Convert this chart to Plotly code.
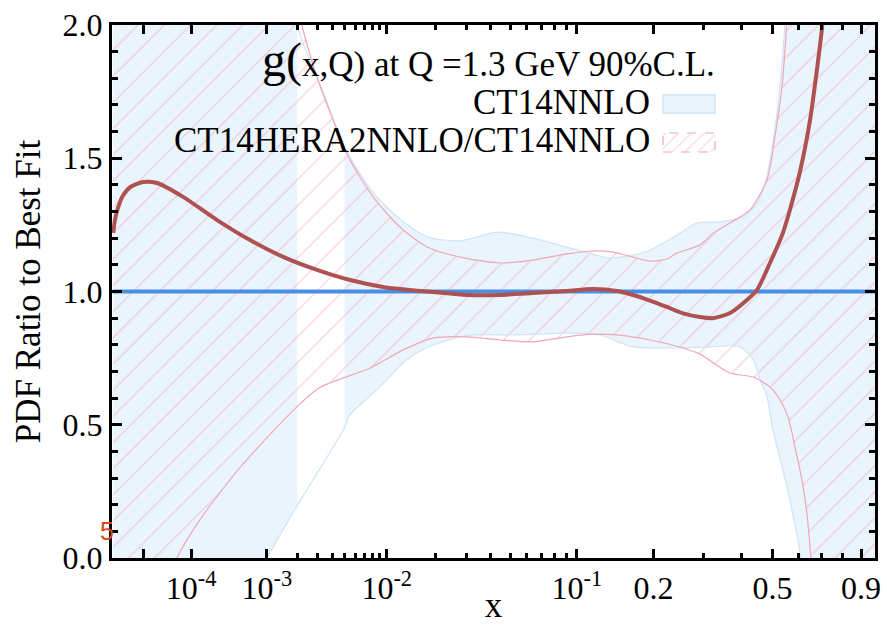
import numpy as np
import plotly.graph_objects as go

# ---------------------------------------------------------------- data ----
# CT14HERA2NNLO / CT14NNLO best-fit ratio for g(x,Q) at Q = 1.3 GeV
x_ratio = [1e-6, 1.19e-6, 1.57e-6, 2.4e-6, 4.14e-6, 9.85e-6, 2.17e-5, 7.27e-5,
           2.5e-4, 6.54e-4, 1.47e-3, 2.99e-3, 5.5e-3, 9.45e-3, 0.0123, 0.0194,
           0.0302, 0.0446, 0.0639, 0.0909, 0.1165, 0.1455, 0.1678, 0.1943,
           0.2238, 0.2554, 0.2921, 0.3235, 0.3676, 0.4164, 0.4481, 0.4914,
           0.538, 0.5645, 0.6048, 0.6464, 0.677, 0.7005, 0.73]
ratio = [1.22, 1.27, 1.315, 1.36, 1.392, 1.411, 1.407, 1.355,
         1.268, 1.193, 1.13, 1.081, 1.043, 1.017, 1.009, 0.998,
         0.987, 0.987, 0.994, 1.002, 1.009, 1.002, 0.987, 0.966,
         0.942, 0.918, 0.904, 0.900, 0.919, 0.968, 1.006, 1.107,
         1.22, 1.306, 1.45, 1.64, 1.83, 1.99, 2.3]

# CT14NNLO reference (ratio to itself)
x_ref = [1e-6, 1.0]
ref = [1.0, 1.0]

# CT14NNLO 90% C.L. band, upper edge
x_ct14_hi = [1e-6, 1e-4, 1e-3, 1.5e-3, 2e-3, 2.44e-3, 3.5e-3, 5e-3, 8.1e-3,
             0.0123, 0.018, 0.0277, 0.0432, 0.0639, 0.1, 0.1366, 0.1678,
             0.1895, 0.2238, 0.2497, 0.2854, 0.3406, 0.4043, 0.448, 0.48,
             0.51, 0.53, 0.545, 0.56, 0.6, 1.0]
ct14_hi = [6.0, 4.0, 2.7, 2.25, 2.0, 1.895, 1.73, 1.54, 1.37,
           1.27, 1.205, 1.19, 1.223, 1.2, 1.156, 1.126, 1.137,
           1.15, 1.19, 1.22, 1.257, 1.261, 1.28, 1.33, 1.43,
           1.62, 1.8, 2.0, 2.3, 3.2, 8.0]

# CT14NNLO 90% C.L. band, lower edge
x_ct14_lo = [1e-6, 1e-4, 5e-4, 1e-3, 2e-3, 5e-3, 5.5e-3, 9e-3, 0.01343,
             0.018, 0.0302, 0.0539, 0.0909, 0.1244, 0.1678, 0.2238, 0.2921,
             0.3958, 0.4363, 0.4582, 0.4814, 0.5017, 0.5534, 0.6048, 0.65, 1.0]
ct14_lo = [-3.0, -0.6, -0.18, 0.0, 0.197, 0.49, 0.537, 0.642, 0.743,
           0.79, 0.835, 0.837, 0.844, 0.837, 0.792, 0.788, 0.79,
           0.792, 0.743, 0.668, 0.604, 0.48, 0.266, 0.02, -0.35, -3.0]

# the CT14NNLO band is not filled for 2e-3 < x < 5e-3
CT14_GAP = (2e-3, 5e-3)

# CT14HERA2NNLO / CT14NNLO 90% C.L. band, upper edge
x_hera_hi = [1e-6, 1e-4, 1e-3, 1.7e-3, 2.2e-3, 2.99e-3, 4.06e-3, 5.5e-3, 8.1e-3,
             0.0123, 0.018, 0.0277, 0.0446, 0.0639, 0.0909, 0.1165, 0.1403,
             0.1678, 0.1943, 0.2238, 0.2433, 0.2921, 0.3235, 0.3676, 0.4258,
             0.4814, 0.5086, 0.5344, 0.5465, 0.5534, 0.57, 0.62, 1.0]
hera_hi = [6.0, 4.0, 2.6, 2.2, 2.0, 1.805, 1.643, 1.493, 1.354,
           1.24, 1.167, 1.129, 1.107, 1.118, 1.141, 1.152, 1.148,
           1.129, 1.114, 1.122, 1.144, 1.175, 1.219, 1.257, 1.306,
           1.419, 1.58, 1.767, 1.92, 2.02, 2.4, 3.5, 8.0]

# CT14HERA2NNLO / CT14NNLO 90% C.L. band, lower edge
x_hera_lo = [1e-6, 1e-5, 3e-5, 5.6e-5, 1.39e-4, 4.98e-4, 1.98e-3, 3.16e-3,
             7.7e-3, 0.0127, 0.0194, 0.0302, 0.0446, 0.0639, 0.0909, 0.1165,
             0.1455, 0.1943, 0.2554, 0.2921, 0.3676, 0.4363, 0.4914, 0.5212,
             0.5576, 0.5843, 0.6126, 0.6335, 0.651, 0.68, 1.0]
hera_lo = [-1.5, -0.5, -0.15, 0.0, 0.143, 0.34, 0.567, 0.64,
           0.713, 0.78, 0.825, 0.83, 0.818, 0.811, 0.83, 0.84,
           0.837, 0.818, 0.788, 0.765, 0.694, 0.679, 0.642, 0.604,
           0.529, 0.417, 0.293, 0.169, 0.0, -0.3, -3.0]

# axis ticks
x_major = [1e-5, 1e-4, 1e-3, 1e-2, 0.1, 0.2, 0.5, 0.9]
x_major_text = ["", "10<sup>-4</sup>", "10<sup>-3</sup>", "10<sup>-2</sup>",
                "10<sup>-1</sup>", "0.2", "0.5", "0.9"]
x_minor = [k * 1e-3 for k in range(2, 10)] + [k * 1e-2 for k in range(2, 10)] \
    + [0.3, 0.4, 0.6, 0.7, 0.8]
y_major = [0.0, 0.5, 1.0, 1.5, 2.0]
y_major_text = ["0.0", "0.5", "1.0", "1.5", "2.0"]

# ------------------------------------------------------------- styling ----
SERIF = "Liberation Serif"
BLUE_FILL = "#eaf4fd"
BLUE_EDGE = "#cfe4f7"
PINK = "#f0a6b7"
RED = "#ad5151"
REF_BLUE = "#4a8fe6"
X_MIN, X_MAX = 8.9e-7, 0.981   # horizontal extent of the frame


def xs(x):
    """The x axis is drawn on an x**(1/5) scale."""
    return np.power(np.asarray(x, dtype=float), 0.2)


def segment(x, y, lo=None, hi=None):
    x = np.asarray(x)
    y = np.asarray(y)
    m = np.ones_like(x, dtype=bool)
    if lo is not None:
        m &= x >= lo
    if hi is not None:
        m &= x <= hi
    return xs(x[m]), y[m]


fig = go.Figure()
SPL = dict(shape="spline", smoothing=0.7)

# CT14NNLO band: filled on both sides of the gap
for lo_lim, hi_lim in [(None, CT14_GAP[0]), (CT14_GAP[1], None)]:
    xl, yl = segment(x_ct14_lo, ct14_lo, lo_lim, hi_lim)
    xh, yh = segment(x_ct14_hi, ct14_hi, lo_lim, hi_lim)
    fig.add_trace(go.Scatter(x=xl, y=yl, mode="lines",
                             line=dict(width=0, color=BLUE_FILL, **SPL),
                             hoverinfo="skip"))
    fig.add_trace(go.Scatter(x=xh, y=yh, mode="lines", fill="tonexty",
                             fillcolor=BLUE_FILL,
                             line=dict(width=0, color=BLUE_FILL, **SPL),
                             hoverinfo="skip"))

# CT14HERA2NNLO / CT14NNLO band: hatched
fig.add_trace(go.Scatter(x=xs(x_hera_lo), y=hera_lo, mode="lines",
                         line=dict(width=0, color=PINK, **SPL), hoverinfo="skip"))
fig.add_trace(go.Scatter(x=xs(x_hera_hi), y=hera_hi, mode="lines", fill="tonexty",
                         fillcolor="rgba(0,0,0,0)",
                         fillpattern=dict(shape="/", fgcolor=PINK,
                                          bgcolor="rgba(0,0,0,0)",
                                          size=18.5, solidity=0.07),
                         line=dict(width=0, color=PINK, **SPL), hoverinfo="skip"))

# band edges
for x, y, c in [(x_ct14_hi, ct14_hi, BLUE_EDGE), (x_ct14_lo, ct14_lo, BLUE_EDGE),
                (x_hera_hi, hera_hi, PINK), (x_hera_lo, hera_lo, PINK)]:
    fig.add_trace(go.Scatter(x=xs(x), y=y, mode="lines",
                             line=dict(width=1.2, color=c, **SPL), hoverinfo="skip"))

# central curves
fig.add_trace(go.Scatter(x=xs(x_ref), y=ref, mode="lines",
                         line=dict(width=4, color=REF_BLUE), hoverinfo="skip"))
fig.add_trace(go.Scatter(x=xs(x_ratio), y=ratio, mode="lines",
                         line=dict(width=4, color=RED, **SPL), hoverinfo="skip"))

# legend keys (drawn on a unit overlay of the plotting area)
KEY_X = (0.7222, 0.7903)
KEY_BLUE_Y = (0.8349, 0.8687)
KEY_PINK_Y = (0.7617, 0.7974)
fig.add_trace(go.Scatter(
    x=[KEY_X[0], KEY_X[1], KEY_X[1], KEY_X[0], KEY_X[0]],
    y=[KEY_PINK_Y[0], KEY_PINK_Y[0], KEY_PINK_Y[1], KEY_PINK_Y[1], KEY_PINK_Y[0]],
    xaxis="x2", yaxis="y2", mode="lines", fill="toself",
    fillcolor="rgba(0,0,0,0)",
    fillpattern=dict(shape="/", fgcolor=PINK, bgcolor="rgba(0,0,0,0)",
                     size=9, solidity=0.12),
    line=dict(width=1.2, color=PINK, dash="dash"), hoverinfo="skip"))
fig.add_shape(type="rect", xref="paper", yref="paper",
              x0=KEY_X[0], x1=KEY_X[1], y0=KEY_BLUE_Y[0], y1=KEY_BLUE_Y[1],
              fillcolor=BLUE_FILL, line=dict(color=BLUE_EDGE, width=1.5))

axis_common = dict(showline=True, linewidth=3, linecolor="black", mirror="ticks",
                   ticks="inside", tickwidth=3, tickcolor="black",
                   showgrid=False, zeroline=False, automargin=False,
                   tickfont=dict(family=SERIF, size=32, color="black"))

fig.update_layout(
    width=887, height=625,
    margin=dict(l=112, r=12, t=25, b=67),
    paper_bgcolor="white", plot_bgcolor="white",
    showlegend=False,
    xaxis=dict(range=[float(xs(X_MIN)), float(xs(X_MAX))],
               tickmode="array", tickvals=xs(x_major).tolist(), ticktext=x_major_text,
               ticklen=9,
               minor=dict(tickmode="array", tickvals=xs(x_minor).tolist(),
                          ticks="inside", ticklen=5, tickwidth=3, tickcolor="black",
                          showgrid=False),
               title=dict(text="x", font=dict(family=SERIF, size=35, color="black"),
                          standoff=2),
               **axis_common),
    yaxis=dict(range=[0, 2], tickmode="array", tickvals=y_major, ticktext=y_major_text,
               ticklen=10,
               minor=dict(dtick=0.1, ticks="inside", ticklen=6, tickwidth=3,
                          tickcolor="black", showgrid=False),
               title=dict(text="PDF Ratio to Best Fit",
                          font=dict(family=SERIF, size=35, color="black"),
                          standoff=12),
               **axis_common),
    xaxis2=dict(overlaying="x", range=[0, 1], visible=False),
    yaxis2=dict(overlaying="y", range=[0, 1], visible=False),
)

TXT = dict(family=SERIF, size=35, color="black")
fig.add_annotation(xref="paper", yref="paper", x=0.7929, y=0.9343,
                   xanchor="right", yanchor="middle", showarrow=False,
                   text='<span style="font-size:48px">g(</span>x,Q) at Q =1.3 GeV 90%C.L.',
                   font=TXT)
fig.add_annotation(xref="paper", yref="paper", x=0.7077, y=0.8537,
                   xanchor="right", yanchor="middle", showarrow=False,
                   text="CT14NNLO", font=TXT)
fig.add_annotation(xref="paper", yref="paper", x=0.7077, y=0.7824,
                   xanchor="right", yanchor="middle", showarrow=False,
                   text="CT14HERA2NNLO/CT14NNLO", font=TXT)
fig.add_annotation(xref="paper", yref="paper", x=-0.0066, y=0.0507,
                   xanchor="center", yanchor="middle", showarrow=False,
                   text="5", font=dict(family="Liberation Sans", size=25, color="#d2491c"))

fig.write_html("out.html")
